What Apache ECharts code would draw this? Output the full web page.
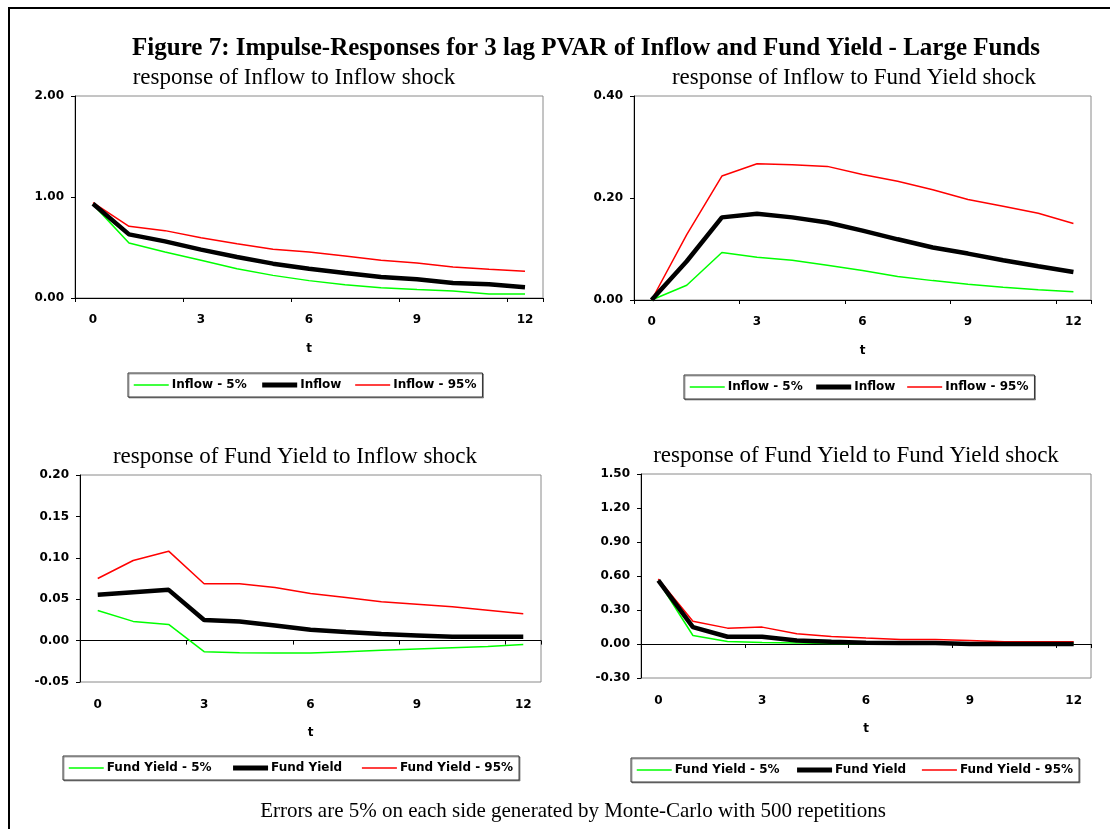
<!DOCTYPE html>
<html>
<head>
<meta charset="utf-8">
<script src="https://cdn.jsdelivr.net/npm/echarts@6/dist/echarts.min.js"></script>
<style>
  html, body { margin: 0; padding: 0; background: #fff; }
  #chart { width: 1110px; height: 829px; }
</style>
</head>
<body>
<div id="chart"></div>
<script>
// horizon t = 0..12
const steps = ["0", "1", "2", "3", "4", "5", "6", "7", "8", "9", "10", "11", "12"];

// response of Inflow to Inflow shock
const infInfLow  = [0.927, 0.545, 0.455, 0.373, 0.290, 0.224, 0.172, 0.132, 0.102, 0.083, 0.069, 0.040, 0.040];
const infInfMid  = [0.934, 0.630, 0.561, 0.479, 0.406, 0.340, 0.290, 0.248, 0.208, 0.185, 0.149, 0.135, 0.106];
const infInfHigh = [0.944, 0.710, 0.667, 0.597, 0.538, 0.482, 0.455, 0.416, 0.373, 0.347, 0.307, 0.284, 0.264];

// response of Inflow to Fund Yield shock
const infFyLow  = [0, 0.029, 0.093, 0.084, 0.078, 0.068, 0.058, 0.046, 0.038, 0.031, 0.025, 0.020, 0.016];
const infFyMid  = [0, 0.076, 0.162, 0.169, 0.162, 0.152, 0.136, 0.119, 0.103, 0.091, 0.078, 0.066, 0.055];
const infFyHigh = [0, 0.128, 0.243, 0.267, 0.265, 0.262, 0.246, 0.233, 0.216, 0.197, 0.184, 0.170, 0.150];

// response of Fund Yield to Inflow shock
const fyInfLow  = [0.0364, 0.0232, 0.0195, -0.0134, -0.0146, -0.0150, -0.0150, -0.0134, -0.0118, -0.0102, -0.0086, -0.0070, -0.0046];
const fyInfMid  = [0.0553, 0.0585, 0.0613, 0.0248, 0.0232, 0.0183, 0.0131, 0.0103, 0.0079, 0.0063, 0.0047, 0.0047, 0.0047];
const fyInfHigh = [0.0750, 0.0967, 0.1080, 0.0686, 0.0686, 0.0640, 0.0570, 0.0520, 0.0470, 0.0440, 0.0408, 0.0368, 0.0324];

// response of Fund Yield to Fund Yield shock
const fyFyLow  = [0.556, 0.075, 0.023, 0.014, 0.008, 0.005, 0.002, 0.001, 0.001, 0, 0, 0, 0];
const fyFyMid  = [0.562, 0.149, 0.064, 0.064, 0.031, 0.020, 0.011, 0.008, 0.008, 0, 0, 0, 0];
const fyFyHigh = [0.574, 0.200, 0.140, 0.149, 0.090, 0.066, 0.052, 0.040, 0.040, 0.031, 0.020, 0.020, 0.020];

const panelTitles = [
  "response of Inflow to Inflow shock",
  "response of Inflow to Fund Yield shock",
  "response of Fund Yield to Inflow shock",
  "response of Fund Yield to Fund Yield shock"
];
const inflowNames = ["Inflow - 5%", "Inflow", "Inflow - 95%"];
const yieldNames = ["Fund Yield - 5%", "Fund Yield", "Fund Yield - 95%"];

const chart = echarts.init(document.getElementById("chart"));

const sans = "DejaVu Sans";
const serif = "Liberation Serif";

const grids = [
  { left: 75, top: 96, width: 468, height: 202 },
  { left: 634, top: 96, width: 457, height: 204 },
  { left: 80, top: 475, width: 461, height: 207 },
  { left: 641, top: 474, width: 450, height: 204 }
].map(g => Object.assign(g, { show: true, borderColor: "#8a8a8a", borderWidth: 1 }));

const yRanges = [
  { min: 0, max: 2, interval: 1 },
  { min: 0, max: 0.4, interval: 0.2 },
  { min: -0.05, max: 0.2, interval: 0.05 },
  { min: -0.3, max: 1.5, interval: 0.3 }
];

const labelFont = { color: "#000", fontFamily: sans, fontWeight: "bold", fontSize: 12 };

// x axes: top panels one axis each; bottom panels a zero-line axis plus a bottom labelled axis
const xAxes = [];
function catAxis(gridIndex, opts) {
  return Object.assign({
    type: "category",
    gridIndex: gridIndex,
    data: steps,
    boundaryGap: true,
    position: "bottom",
    axisLine: { show: true, onZero: false, lineStyle: { color: "#000", width: 1 } },
    axisTick: { show: true, interval: 2, length: 4, inside: false, lineStyle: { color: "#000" } },
    axisLabel: Object.assign({ interval: 2, margin: 16 }, labelFont),
    splitLine: { show: false },
    name: "t",
    nameLocation: "middle",
    nameGap: 45,
    nameTextStyle: labelFont
  }, opts);
}
xAxes.push(catAxis(0, {}));
xAxes.push(catAxis(1, {}));
xAxes.push(catAxis(2, { axisLine: { show: true, onZero: true, lineStyle: { color: "#000", width: 1 } }, axisLabel: { show: false }, name: "" }));
xAxes.push(catAxis(2, { axisLine: { show: false, onZero: false }, axisTick: { show: false }, axisLabel: Object.assign({ interval: 2, margin: 17 }, labelFont) }));
xAxes.push(catAxis(3, { axisLine: { show: true, onZero: true, lineStyle: { color: "#000", width: 1 } }, axisLabel: { show: false }, name: "" }));
xAxes.push(catAxis(3, { axisLine: { show: false, onZero: false }, axisTick: { show: false }, axisLabel: Object.assign({ interval: 2, margin: 17 }, labelFont) }));

const yAxes = yRanges.map((r, i) => ({
  type: "value",
  gridIndex: i,
  min: r.min,
  max: r.max,
  interval: r.interval,
  axisLine: { show: true, lineStyle: { color: "#000", width: 1 } },
  axisTick: { show: true, length: 4, lineStyle: { color: "#000" } },
  axisLabel: Object.assign({ margin: 11, formatter: v => v.toFixed(2) }, labelFont),
  splitLine: { show: false }
}));

const colors = ["#00ff00", "#000000", "#ff0000"];
const widths = [1.5, 4.5, 1.5];

const panelData = [
  [infInfLow, infInfMid, infInfHigh],
  [infFyLow, infFyMid, infFyHigh],
  [fyInfLow, fyInfMid, fyInfHigh],
  [fyFyLow, fyFyMid, fyFyHigh]
];
const panelXAxis = [0, 1, 2, 4];

const series = [];
panelData.forEach((trio, p) => {
  const names = p < 2 ? inflowNames : yieldNames;
  trio.forEach((vals, k) => {
    series.push({
      type: "line",
      name: names[k],
      xAxisIndex: panelXAxis[p],
      yAxisIndex: p,
      data: vals,
      symbol: "none",
      smooth: false,
      z: k === 1 ? 3 : 2,
      lineStyle: { color: colors[k], width: widths[k] },
      itemStyle: { color: colors[k] }
    });
  });
});

const legendPos = [
  { left: 128, top: 373, itemGap: 13 },
  { left: 684, top: 375, itemGap: 11 },
  { left: 63, top: 756, itemGap: 19 },
  { left: 631, top: 758, itemGap: 15 }
];
const legends = legendPos.map((pos, p) => ({
  left: pos.left,
  top: pos.top,
  orient: "horizontal",
  data: (p < 2 ? inflowNames : yieldNames).map((n, k) => ({
    name: n,
    lineStyle: { color: colors[k], width: k === 1 ? 5 : 1.5 }
  })),
  itemWidth: 35,
  itemHeight: 10,
  itemGap: pos.itemGap,
  padding: [6, 6, 6, 5],
  borderColor: "#333",
  borderWidth: 1,
  backgroundColor: "#fff",
  shadowColor: "rgba(0,0,0,0.35)",
  shadowOffsetX: 1,
  shadowOffsetY: 1,
  selectedMode: false,
  itemStyle: { opacity: 0 },
  textStyle: Object.assign({ padding: [0, 0, 0, -2] }, labelFont)
}));

const titleCenters = [[289, 61], [849, 61], [290, 440], [851, 439]];
const titles = [
  {
    text: "Figure 7: Impulse-Responses for 3 lag PVAR of Inflow and Fund Yield - Large Funds",
    left: 581, top: 31, textAlign: "center",
    textStyle: { fontFamily: serif, fontWeight: "bold", fontSize: 25, color: "#000" }
  }
].concat(panelTitles.map((t, i) => ({
  text: t,
  left: titleCenters[i][0], top: titleCenters[i][1], textAlign: "center",
  textStyle: { fontFamily: serif, fontWeight: "normal", fontSize: 23, color: "#000" }
}))).concat([{
  text: "Errors are 5% on each side generated by Monte-Carlo with 500 repetitions",
  left: 568, top: 796, textAlign: "center",
  textStyle: { fontFamily: serif, fontWeight: "normal", fontSize: 21, color: "#000" }
}]);

chart.setOption({
  animation: false,
  backgroundColor: "#fff",
  title: titles,
  grid: grids,
  xAxis: xAxes,
  yAxis: yAxes,
  legend: legends,
  series: series,
  graphic: [
    { type: "line", shape: { x1: 9, y1: 8, x2: 9, y2: 829 }, style: { stroke: "#000", lineWidth: 2 } },
    { type: "line", shape: { x1: 8, y1: 8, x2: 1110, y2: 8 }, style: { stroke: "#000", lineWidth: 2 } }
  ]
});
</script>
</body>
</html>
